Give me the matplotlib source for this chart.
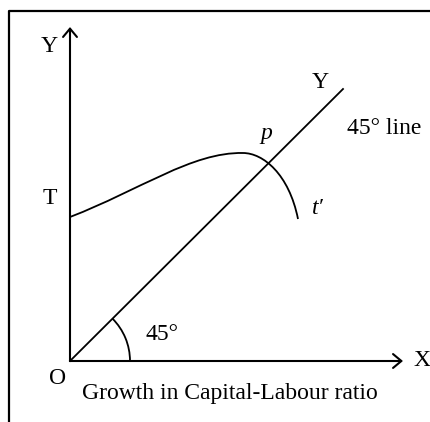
import matplotlib
matplotlib.use("Agg")
import matplotlib.pyplot as plt
from matplotlib.path import Path
from matplotlib.patches import PathPatch, Arc

# diagram geometry, in picture pixels (y grows downward)
ORIGIN = (70, 361)
Y_AXIS_TOP = (70, 27)
X_AXIS_END = (403, 361)
LINE45_END = (343, 89)
ANGLE_RADIUS = 60

# growth curve T -> p -> t' as two cubic Bezier pieces
CURVE_X = [70, 140, 192, 243, 263, 289, 298]
CURVE_Y = [217, 190, 152, 153, 153, 174, 219]

LABELS = ["Y", "T", "O", "X", "Y", "45° line", "p", "t′", "45°",
          "Growth in Capital-Labour ratio"]
LABEL_X = [49, 50, 58, 422, 320, 384, 266, 318, 162, 230]
LABEL_Y = [47, 199, 379, 361, 83, 128, 134, 209, 334, 393]
LABEL_ITALIC = [False, False, False, False, False, False, True, True, False, False]

W, H, DPI = 430, 422, 100
FONT = "Liberation Serif"
FS = 17


def main():
    fig = plt.figure(figsize=(W / DPI, H / DPI), dpi=DPI)
    ax = fig.add_axes([0, 0, 1, 1])
    ax.set_xlim(0, W)
    ax.set_ylim(H, 0)
    ax.set_axis_off()

    # cropped frame: left and top edges only
    ax.plot([9, 9, W], [H, 11, 11], color="black", lw=1.6, solid_capstyle="butt")

    # axes with open arrow heads
    arrow = dict(arrowstyle="->,head_length=0.6,head_width=0.5",
                 color="black", lw=1.5, shrinkA=0, shrinkB=0)
    ax.annotate("", xy=Y_AXIS_TOP, xytext=ORIGIN, arrowprops=arrow)
    ax.annotate("", xy=X_AXIS_END, xytext=ORIGIN, arrowprops=arrow)

    # 45 degree line
    ax.plot([ORIGIN[0], LINE45_END[0]], [ORIGIN[1], LINE45_END[1]],
            color="black", lw=1.3)

    # angle arc (y axis inverted, so angles go clockwise on screen)
    ax.add_patch(Arc(ORIGIN, 2 * ANGLE_RADIUS, 2 * ANGLE_RADIUS,
                     theta1=-45, theta2=0, color="black", lw=1.3))

    # growth curve
    verts = list(zip(CURVE_X, CURVE_Y))
    codes = [Path.MOVETO] + [Path.CURVE4] * 6
    ax.add_patch(PathPatch(Path(verts, codes), fill=False,
                           edgecolor="black", lw=1.3))

    for txt, x, y, it in zip(LABELS, LABEL_X, LABEL_Y, LABEL_ITALIC):
        ax.text(x, y, txt, ha="center", va="center", fontsize=FS,
                family=[FONT, "DejaVu Serif"],
                style="italic" if it else "normal")

    fig.savefig("out.png", dpi=DPI, facecolor="white")


if __name__ == "__main__":
    main()
